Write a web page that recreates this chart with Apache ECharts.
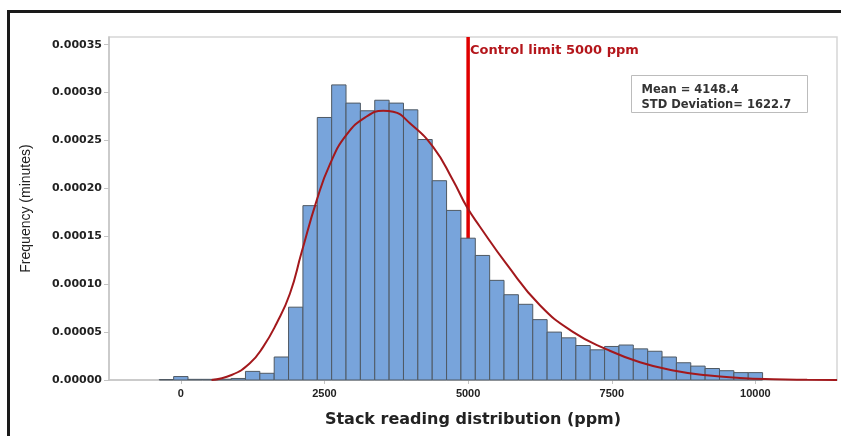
<!DOCTYPE html>
<html>
<head>
<meta charset="utf-8">
<script src="https://cdn.jsdelivr.net/npm/echarts@6/dist/echarts.min.js"></script>
<style>
  html, body { margin: 0; padding: 0; background: #fff; }
  #chart_example { width: 841px; height: 436px; }
</style>
</head>
<body>
<div id="chart_example"></div>
<script>
// bin centres (ppm), 250 ppm wide bins
var binCenters = [-250, 0, 250, 500, 750, 1000, 1250, 1500, 1750, 2000, 2250, 2500, 2750, 3000,
  3250, 3500, 3750, 4000, 4250, 4500, 4750, 5000, 5250, 5500, 5750, 6000, 6250, 6500, 6750,
  7000, 7250, 7500, 7750, 8000, 8250, 8500, 8750, 9000, 9250, 9500, 9750, 10000];
// bar heights, in units of 1e-5
var binHeights = [0.05, 0.36, 0.07, 0.07, 0.08, 0.16, 0.9, 0.7, 2.4, 7.6, 18.2, 27.4, 30.8, 28.9,
  28.1, 29.2, 28.9, 28.2, 25.1, 20.8, 17.7, 14.8, 13.0, 10.4, 8.9, 7.9, 6.3, 5.0, 4.4,
  3.6, 3.15, 3.5, 3.65, 3.25, 3.0, 2.4, 1.8, 1.45, 1.2, 0.97, 0.77, 0.77];
var binWidth = 250;

// fitted curve (ppm, 1e-5)
var fitX = [534, 883, 1201, 1433, 1666, 1898, 2101, 2362, 2594, 2885, 3233, 3522, 3696, 3987, 4393,
  4741, 4974, 5206, 5670, 6250, 6830, 7411, 7991, 8571, 9152, 9732, 10312, 10900, 11420];
var fitY = [0, 0.52, 1.74, 3.46, 5.9, 9.0, 13.3, 18.7, 22.5, 25.6, 27.5, 28.1, 28.0, 26.8, 24.3,
  20.8, 18.1, 16.0, 12.1, 7.8, 5.0, 3.2, 1.85, 1.0, 0.5, 0.22, 0.08, 0.02, 0];

var controlLimit = 5000;
var xTicks = [0, 2500, 5000, 7500, 10000];
var yTicks = [0, 0.00005, 0.0001, 0.00015, 0.0002, 0.00025, 0.0003, 0.00035];
var meanText = 'Mean = 4148.4';
var stdText = 'STD Deviation= 1622.7';

var xMin = -1250, xMax = 11420, yMax = 0.000358;

var histData = [];
for (var i = 0; i < binCenters.length; i++) {
  histData.push([binCenters[i], binHeights[i] * 1e-5]);
}
var fitData = [];
for (var j = 0; j < fitX.length; j++) {
  fitData.push([fitX[j], fitY[j] * 1e-5]);
}

var myChart = echarts.init(document.getElementById('chart_example'));
var option = {
  backgroundColor: '#fff',
  animation: false,
  grid: {
    left: 109, right: 4, top: 37, bottom: 56,
    show: true, borderColor: '#d6d6d6', borderWidth: 1.5
  },
  xAxis: {
    type: 'value',
    min: xMin, max: xMax,
    name: 'Stack reading distribution (ppm)',
    nameLocation: 'middle',
    nameGap: 32,
    nameTextStyle: { fontFamily: 'DejaVu Sans', fontWeight: 'bold', fontSize: 16, color: '#222' },
    axisLine: { onZero: false, lineStyle: { color: '#c4c4c4', width: 1.5 } },
    axisTick: { customValues: xTicks, length: 4, lineStyle: { color: '#c4c4c4' } },
    axisLabel: {
      customValues: xTicks, margin: 8,
      fontFamily: 'Liberation Sans', fontWeight: 'bold', fontSize: 11, color: '#222',
      formatter: function (v) { return String(v); }
    },
    splitLine: { show: false }
  },
  yAxis: {
    type: 'value',
    min: 0, max: yMax,
    name: 'Frequency (minutes)',
    nameLocation: 'middle',
    nameGap: 76,
    nameTextStyle: { fontFamily: 'Liberation Sans', fontSize: 14, color: '#222' },
    axisLine: { show: true, onZero: false, lineStyle: { color: '#c4c4c4', width: 1.5 } },
    axisTick: { show: true, customValues: yTicks, length: 5, lineStyle: { color: '#c4c4c4' } },
    axisLabel: {
      customValues: yTicks, margin: 7,
      fontFamily: 'DejaVu Sans', fontWeight: 'bold', fontSize: 11, color: '#222',
      formatter: function (v) { return v.toFixed(5); }
    },
    splitLine: { show: false }
  },
  graphic: [
    { type: 'line', shape: { x1: 7, y1: 11.5, x2: 841, y2: 11.5 }, style: { stroke: '#1a1a1a', lineWidth: 3 } },
    { type: 'line', shape: { x1: 8.5, y1: 10, x2: 8.5, y2: 436 }, style: { stroke: '#1a1a1a', lineWidth: 3 } },
    {
      type: 'text', left: 470, top: 44, z: 10,
      style: { text: 'Control limit 5000 ppm', fill: '#b4161b', font: 'bold 13px "DejaVu Sans"' }
    },
    {
      type: 'group', left: 631, top: 75, z: 10,
      children: [
        { type: 'rect', shape: { x: 0, y: 0, width: 176, height: 37 }, style: { fill: '#fff', stroke: '#bcbcbc', lineWidth: 1 } },
        { type: 'text', x: 10, y: 15, style: { text: meanText, fill: '#333', font: 'bold 11.5px "DejaVu Sans"', verticalAlign: 'middle' } },
        { type: 'text', x: 10, y: 30, style: { text: stdText, fill: '#333', font: 'bold 11.5px "DejaVu Sans"', verticalAlign: 'middle' } }
      ]
    }
  ],
  series: [
    {
      name: 'control',
      type: 'line',
      z: 1,
      silent: true,
      symbol: 'none',
      lineStyle: { color: '#e00000', width: 3.5 },
      data: [[controlLimit, 0], [controlLimit, yMax]]
    },
    {
      name: 'hist',
      type: 'custom',
      z: 2,
      encode: { x: 0, y: 1 },
      renderItem: function (params, api) {
        var c = api.value(0), v = api.value(1);
        var p0 = api.coord([c - binWidth / 2, v]);
        var p1 = api.coord([c + binWidth / 2, 0]);
        return {
          type: 'rect',
          shape: { x: p0[0], y: p0[1], width: p1[0] - p0[0], height: p1[1] - p0[1] },
          style: { fill: '#78a4db', stroke: '#4f5963', lineWidth: 1 }
        };
      },
      data: histData
    },
    {
      name: 'fit',
      type: 'line',
      z: 3,
      smooth: 0.5,
      symbol: 'none',
      lineStyle: { color: '#a3181c', width: 2 },
      data: fitData
    }
  ]
};
myChart.setOption(option);
</script>
</body>
</html>
